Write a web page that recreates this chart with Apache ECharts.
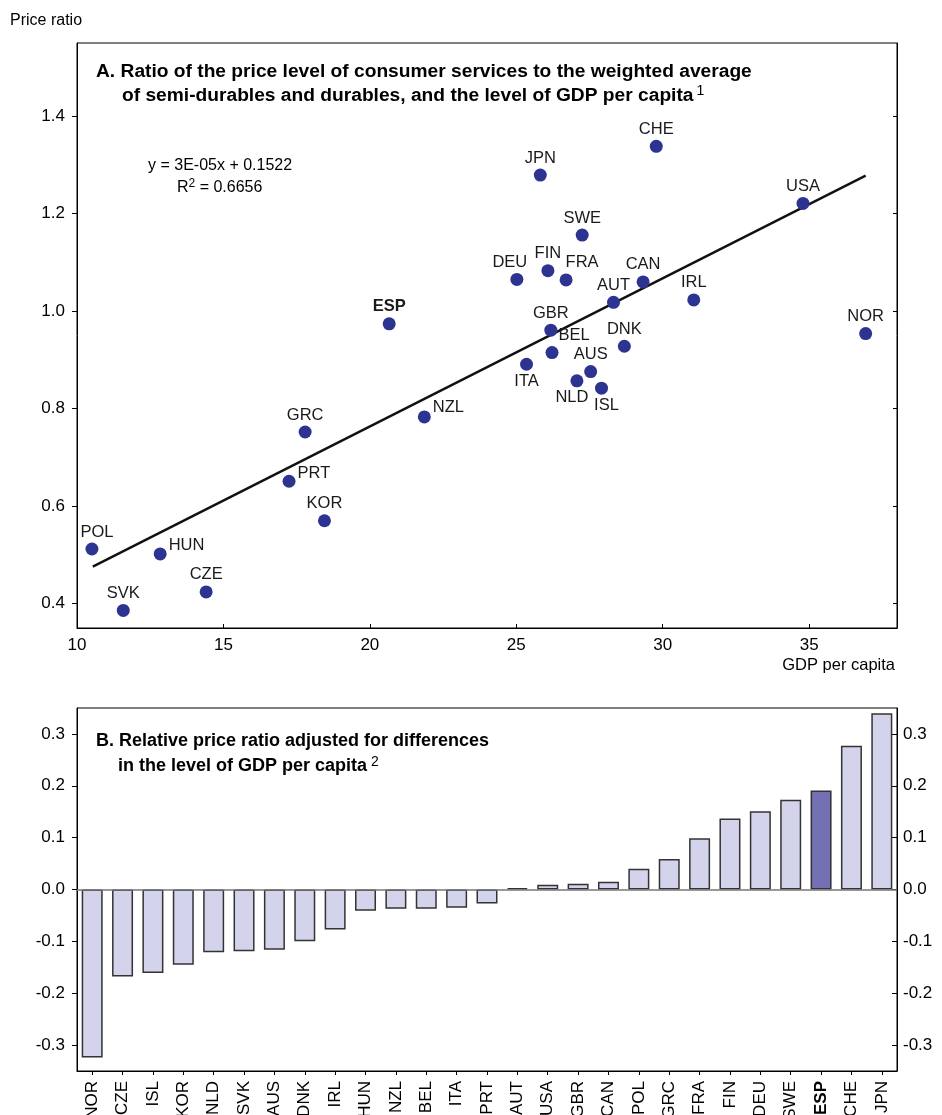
<!DOCTYPE html>
<html>
<head>
<meta charset="utf-8">
<script src="https://cdn.jsdelivr.net/npm/echarts@6/dist/echarts.min.js"></script>
<style>
  html, body { margin: 0; padding: 0; background: #fff; }
  #chart { width: 942px; height: 1115px; }
</style>
</head>
<body>
<div id="chart"></div>
<script>
// Panel A: price ratio of consumer services vs GDP per capita (thousands)
const countries = ['POL','SVK','HUN','CZE','KOR','PRT','GRC','NZL','ESP','ITA','BEL','GBR','NLD','AUS',
                   'ISL','DNK','AUT','CAN','IRL','DEU','FIN','FRA','SWE','JPN','CHE','USA','NOR'];
const gdpPerCapita = [10.51, 11.58, 12.84, 14.41, 18.45, 17.24, 17.79, 21.86, 20.66, 25.35, 26.22, 26.18, 27.07, 27.54,
                      27.91, 28.69, 28.32, 29.33, 31.06, 25.02, 26.08, 26.70, 27.25, 25.82, 29.78, 34.79, 36.93];
const priceRatio   = [0.512, 0.386, 0.502, 0.424, 0.570, 0.651, 0.752, 0.783, 0.974, 0.891, 0.915, 0.961, 0.857, 0.876,
                      0.842, 0.928, 1.018, 1.060, 1.023, 1.065, 1.083, 1.064, 1.156, 1.279, 1.338, 1.221, 0.954];
// Fitted line end points (y = 3E-05x + 0.1522, x in dollars)
const trendGdp   = [10.54, 36.93];
const trendRatio = [0.476, 1.278];
const gdpTicks   = [10, 15, 20, 25, 30, 35];
const ratioTicks = [0.4, 0.6, 0.8, 1.0, 1.2, 1.4];

// Panel B: relative price ratio adjusted for GDP per capita
const barCountries  = ['NOR','CZE','ISL','KOR','NLD','SVK','AUS','DNK','IRL','HUN','NZL','BEL','ITA','PRT',
                       'AUT','USA','GBR','CAN','POL','GRC','FRA','FIN','DEU','SWE','ESP','CHE','JPN'];
const adjustedRatio = [-0.324, -0.168, -0.161, -0.145, -0.121, -0.119, -0.116, -0.100, -0.077, -0.041, -0.037, -0.037, -0.035, -0.027,
                       0.0025, 0.009, 0.011, 0.015, 0.040, 0.059, 0.099, 0.137, 0.151, 0.173, 0.191, 0.277, 0.340];
const adjTicks = [-0.3, -0.2, -0.1, 0.0, 0.1, 0.2, 0.3];
const highlighted = 'ESP';

const FONT = '"Liberation Sans", Arial, Helvetica, sans-serif';
const DOT = '#2d3391';
const BAR = '#d3d3eb';
const BAR_HI = '#7370b3';

// Label placement around each dot
const labelPlacement = {
  POL: { position: 'top', offset: [5, 0] },
  DEU: { position: 'top', offset: [-7, 0] },
  FRA: { position: 'top', offset: [16, 0] },
  BEL: { position: 'top', offset: [22, 0] },
  HUN: { position: 'right', offset: [0, -8] },
  PRT: { position: 'right', offset: [0, -8] },
  NZL: { position: 'right', offset: [0, -9] },
  ITA: { position: 'bottom', offset: [0, 0] },
  NLD: { position: 'bottom', offset: [-5, 0] },
  ISL: { position: 'bottom', offset: [5, 0] }
};

const scatterData = countries.map((c, i) => {
  const p = labelPlacement[c] || { position: 'top', offset: [0, 0] };
  const item = { name: c, value: [gdpPerCapita[i], priceRatio[i]],
                 label: { position: p.position, offset: p.offset } };
  if (c === highlighted) item.label.fontWeight = 'bold';
  return item;
});

const barData = adjustedRatio.map((v, i) => ({
  value: v,
  itemStyle: { color: barCountries[i] === highlighted ? BAR_HI : BAR }
}));

const axisBlack = { show: true, lineStyle: { color: '#000', width: 1 } };
const tickLabel = { color: '#000', fontSize: 17, fontFamily: FONT };

const chart = echarts.init(document.getElementById('chart'), null, { renderer: 'canvas' });
chart.setOption({
  animation: false,
  backgroundColor: '#fff',
  grid: [
    { left: 77, top: 43, width: 820, height: 585, show: true, borderColor: '#000', borderWidth: 1,
      backgroundColor: 'transparent', containLabel: false, outerBoundsMode: 'none' },
    { left: 77, top: 708, width: 820, height: 363, show: true, borderColor: '#000', borderWidth: 1,
      backgroundColor: 'transparent', containLabel: false, outerBoundsMode: 'none' }
  ],
  xAxis: [
    {
      type: 'value', gridIndex: 0, min: 10, max: 38,
      axisLine: axisBlack,
      axisTick: { show: true, inside: true, length: 4, customValues: gdpTicks, lineStyle: { color: '#000' } },
      axisLabel: Object.assign({ customValues: gdpTicks, margin: 9 }, tickLabel),
      splitLine: { show: false }
    },
    {
      type: 'category', gridIndex: 1, data: barCountries,
      axisLine: { show: true, onZero: false, lineStyle: { color: '#000', width: 1 } },
      axisTick: { show: true, alignWithLabel: true, length: 4, lineStyle: { color: '#000' } },
      axisLabel: {
        rotate: 90, interval: 0, margin: 10, color: '#000', fontSize: 17, fontFamily: FONT,
        formatter: v => v === highlighted ? '{b|' + v + '}' : v,
        rich: { b: { fontWeight: 'bold', fontSize: 17, fontFamily: FONT, color: '#000' } }
      },
      splitLine: { show: false }
    }
  ],
  yAxis: [
    {
      type: 'value', gridIndex: 0, min: 0.35, max: 1.55,
      axisLine: axisBlack,
      axisTick: { show: true, length: 5, customValues: ratioTicks, lineStyle: { color: '#000' } },
      axisLabel: Object.assign({ customValues: ratioTicks, margin: 12, formatter: v => v.toFixed(1) }, tickLabel),
      splitLine: { show: false }
    },
    {
      type: 'value', gridIndex: 0, position: 'right', min: 0.35, max: 1.55,
      axisLine: axisBlack,
      axisTick: { show: true, inside: true, length: 4, customValues: ratioTicks, lineStyle: { color: '#000' } },
      axisLabel: { show: false },
      splitLine: { show: false }
    },
    {
      type: 'value', gridIndex: 1, min: -0.35, max: 0.35,
      axisLine: axisBlack,
      axisTick: { show: true, length: 5, customValues: adjTicks, lineStyle: { color: '#000' } },
      axisLabel: Object.assign({ customValues: adjTicks, margin: 12, formatter: v => v.toFixed(1) }, tickLabel),
      splitLine: { show: false }
    },
    {
      type: 'value', gridIndex: 1, position: 'right', min: -0.35, max: 0.35,
      axisLine: axisBlack,
      axisTick: { show: true, inside: true, length: 5, customValues: adjTicks, lineStyle: { color: '#000' } },
      axisLabel: Object.assign({ customValues: adjTicks, margin: 6, formatter: v => v.toFixed(1) }, tickLabel),
      splitLine: { show: false }
    }
  ],
  series: [
    {
      type: 'line', xAxisIndex: 0, yAxisIndex: 0, z: 2,
      data: trendGdp.map((x, i) => [x, trendRatio[i]]),
      symbol: 'none', lineStyle: { color: '#111', width: 2.4 }, silent: true
    },
    {
      type: 'scatter', xAxisIndex: 0, yAxisIndex: 0, z: 3,
      data: scatterData, symbol: 'circle', symbolSize: 13,
      itemStyle: { color: DOT, opacity: 1 },
      label: { show: true, formatter: '{b}', distance: 2, color: '#1a1a1a', fontSize: 16.5, fontFamily: FONT }
    },
    {
      type: 'bar', xAxisIndex: 1, yAxisIndex: 2,
      data: barData, barWidth: 21,
      itemStyle: { borderColor: '#333', borderWidth: 1.5 },
      markLine: {
        silent: true, symbol: 'none', label: { show: false },
        lineStyle: { color: '#777', width: 1.5, type: 'solid' },
        data: [{ yAxis: 0 }]
      }
    }
  ],
  graphic: [
    { type: 'text', x: 10, y: 21, style: { text: 'Price ratio', fill: '#000', fontSize: 16, fontFamily: FONT, verticalAlign: 'middle' } },
    { type: 'text', x: 895, y: 665, style: { text: 'GDP per capita', fill: '#000', fontSize: 16.5, fontFamily: FONT, align: 'right', verticalAlign: 'middle' } },
    { type: 'text', x: 96, y: 72, style: {
        text: 'A. Ratio of the price level of consumer services to the weighted average',
        fill: '#000', fontSize: 19.2, fontWeight: 'bold', fontFamily: FONT, verticalAlign: 'middle' } },
    { type: 'text', x: 122, y: 96, style: {
        text: '{t|of semi-durables and durables, and the level of GDP per capita}{s|1}',
        verticalAlign: 'middle',
        rich: {
          t: { fill: '#000', fontSize: 19.2, fontWeight: 'bold', fontFamily: FONT, lineHeight: 23 },
          s: { fill: '#000', fontSize: 14, fontFamily: FONT, verticalAlign: 'top', lineHeight: 14, padding: [0, 0, 0, 3] }
        } } },
    { type: 'text', x: 148, y: 166, style: { text: 'y = 3E-05x + 0.1522', fill: '#000', fontSize: 16, fontFamily: FONT, verticalAlign: 'middle' } },
    { type: 'text', x: 177, y: 188, style: {
        text: '{t|R}{s|2}{t| = 0.6656}',
        verticalAlign: 'middle',
        rich: {
          t: { fill: '#000', fontSize: 16, fontFamily: FONT, lineHeight: 20 },
          s: { fill: '#000', fontSize: 12, fontFamily: FONT, verticalAlign: 'top', lineHeight: 13 }
        } } },
    { type: 'text', x: 96, y: 741, style: {
        text: 'B. Relative price ratio adjusted for differences',
        fill: '#000', fontSize: 18, fontWeight: 'bold', fontFamily: FONT, verticalAlign: 'middle' } },
    { type: 'text', x: 118, y: 766, style: {
        text: '{t|in the level of GDP per capita}{s|2}',
        verticalAlign: 'middle',
        rich: {
          t: { fill: '#000', fontSize: 18, fontWeight: 'bold', fontFamily: FONT, lineHeight: 22 },
          s: { fill: '#000', fontSize: 14, fontFamily: FONT, verticalAlign: 'top', lineHeight: 14, padding: [0, 0, 0, 4] }
        } } }
  ]
});
</script>
</body>
</html>
